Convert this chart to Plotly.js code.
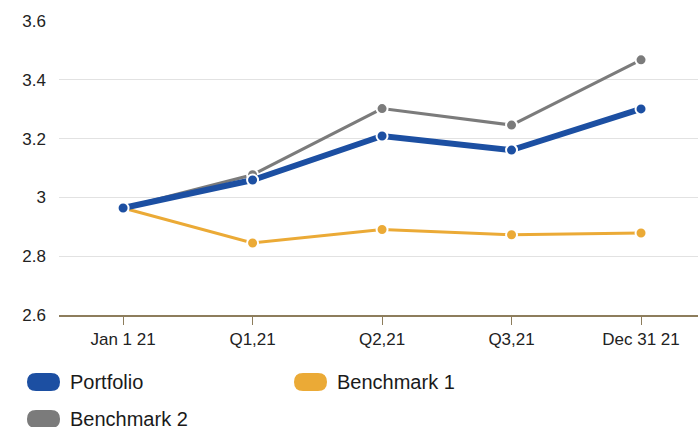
<!DOCTYPE html>
<html>
<head>
<meta charset="utf-8">
<script src="https://cdn.plot.ly/plotly-3.0.1.min.js"></script>
<style>html,body{margin:0;padding:0;background:#fff;}#chart{width:698px;height:427px;}</style>
</head>
<body>
<div id="chart"></div>
<script>
const categories = ["Jan 1 21", "Q1,21", "Q2,21", "Q3,21", "Dec 31 21"];
const portfolio = [2.964, 3.059, 3.209, 3.161, 3.301];
const benchmark1 = [2.964, 2.845, 2.891, 2.873, 2.879];
const benchmark2 = [2.964, 3.077, 3.302, 3.246, 3.468];
const seriesNames = ["Portfolio", "Benchmark 1", "Benchmark 2"];
const yTicks = [2.6, 2.8, 3, 3.2, 3.4, 3.6];
const yTickText = ["2.6", "2.8", "3", "3.2", "3.4", "3.6"];

const colors = {p: "#1c4fa2", b1: "#ebaa36", b2: "#7b7b7b"};
const W = 698, H = 427, ML = 59, MR = 0, MT = 21, MB = 112;
const PW = W - ML - MR, PH = H - MT - MB;
const px = x => (x - ML) / PW;
const py = y => (MT + PH - y) / PH;

function mk(name, y, color, lw) {
  return {
    type: "scatter", mode: "lines+markers", name: name,
    x: categories, y: y,
    line: {color: color, width: lw},
    marker: {color: color, size: 11, line: {color: "#ffffff", width: 2}},
    cliponaxis: false, showlegend: false
  };
}
const data = [
  mk(seriesNames[1], benchmark1, colors.b1, 3),
  mk(seriesNames[2], benchmark2, colors.b2, 3),
  mk(seriesNames[0], portfolio, colors.p, 6)
];

function pill(x0, y0, x1, y1, color) {
  const r = (y1 - y0) / 2;
  const P = (x, y) => px(x) + "," + py(y);
  const path = "M" + P(x0 + r, y0) + " L" + P(x1 - r, y0) +
    " Q" + P(x1, y0) + " " + P(x1, y0 + r) +
    " Q" + P(x1, y1) + " " + P(x1 - r, y1) +
    " L" + P(x0 + r, y1) +
    " Q" + P(x0, y1) + " " + P(x0, y0 + r) +
    " Q" + P(x0, y0) + " " + P(x0 + r, y0) + " Z";
  return {type: "path", xref: "paper", yref: "paper", path: path,
          fillcolor: color, line: {width: 0}, layer: "above"};
}
const legendItems = [
  {name: seriesNames[0], color: colors.p, x: 27, y: 373},
  {name: seriesNames[1], color: colors.b1, x: 294, y: 373},
  {name: seriesNames[2], color: colors.b2, x: 27, y: 410}
];
const shapes = legendItems.map(it => pill(it.x, it.y, it.x + 33, it.y + 18, it.color));
const annotations = legendItems.map(it => ({
  xref: "paper", yref: "paper", x: px(it.x + 41), y: py(it.y + 9),
  xanchor: "left", yanchor: "middle", showarrow: false, text: it.name,
  font: {family: "Liberation Sans, Arial, sans-serif", size: 20, color: "#1a1a1a"}
}));

const layout = {
  width: W, height: H, autosize: false,
  margin: {l: ML, r: MR, t: MT, b: MB, pad: 0},
  paper_bgcolor: "#ffffff", plot_bgcolor: "#ffffff",
  font: {family: "Liberation Sans, Arial, sans-serif", size: 17, color: "#222222"},
  showlegend: false,
  xaxis: {
    type: "category", range: [-0.495, 4.44],
    showgrid: false, zeroline: false,
    showline: true, linecolor: "#8d7d5c", linewidth: 2,
    ticks: "outside", ticklen: 8, tickwidth: 1, tickcolor: "#8d7d5c",
    tickfont: {size: 17, color: "#222222"}, fixedrange: true
  },
  yaxis: {
    range: [2.6, 3.6], tickvals: yTicks, ticktext: yTickText,
    showgrid: true, gridcolor: "#e2e2e2", gridwidth: 1,
    zeroline: false, showline: false, ticks: "", ticklabelstandoff: 12,
    tickfont: {size: 17, color: "#222222"}, fixedrange: true
  },
  shapes: shapes,
  annotations: annotations
};
Plotly.newPlot("chart", data, layout, {displayModeBar: false, staticPlot: true});
</script>
</body>
</html>
